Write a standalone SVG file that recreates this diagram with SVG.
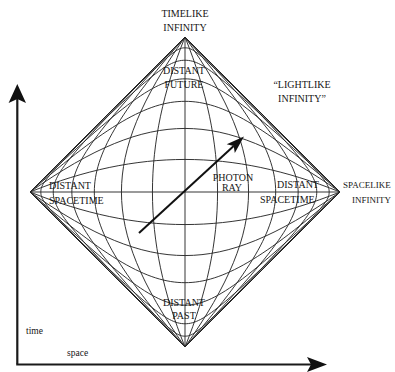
<svg xmlns="http://www.w3.org/2000/svg" xmlns:xlink="http://www.w3.org/1999/xlink" width="395" height="372" viewBox="0 0 395 372">
<defs>
<style>
.g{fill:none;stroke:#2a2a2a;stroke-width:0.95}
.b{fill:none;stroke:#222;stroke-width:1}
.t{font-family:"Liberation Serif","Times New Roman",serif;font-size:10px;fill:#151515}
.s{font-size:9.5px}
.n{font-size:9px}
.m{text-anchor:middle}
.ax{fill:none;stroke:#1a1a1a;stroke-width:2.2}
.hd{fill:#111;stroke:none}
</style>
<g id="vfam">
<path class="g" d="M185,37 V347"/>
<path class="g" d="M185,347 C206.94,292.45 217.55,241.95 217.55,192 C217.55,142.05 206.94,91.55 185,37"/>
<path class="g" d="M185,347 C163.06,292.45 152.45,241.95 152.45,192 C152.45,142.05 163.06,91.55 185,37"/>
<path class="g" d="M185,347 C229.31,283.87 248.55,236.96 248.55,192 C248.55,147.04 229.31,100.13 185,37"/>
<path class="g" d="M185,347 C140.69,283.87 121.45,236.96 121.45,192 C121.45,147.04 140.69,100.13 185,37"/>
<path class="g" d="M185,347 C251.76,270.42 275.68,229.53 275.68,192 C275.68,154.47 251.76,113.58 185,37"/>
<path class="g" d="M185,347 C118.24,270.42 94.32,229.53 94.32,192 C94.32,154.47 118.24,113.58 185,37"/>
<path class="g" d="M185,347 C274.62,252.91 298.15,220.67 298.15,192 C298.15,163.33 274.62,131.09 185,37"/>
<path class="g" d="M185,347 C95.38,252.91 71.85,220.67 71.85,192 C71.85,163.33 95.38,131.09 185,37"/>
<path class="g" d="M185,347 C300.06,230.42 316.75,210.78 316.75,192 C316.75,173.22 300.06,153.58 185,37"/>
<path class="g" d="M185,347 C69.94,230.42 53.25,210.78 53.25,192 C53.25,173.22 69.94,153.58 185,37"/>
<path class="g" d="M185,347 C325.54,206.09 329.15,202.21 329.15,192 C329.15,181.79 325.54,177.91 185,37"/>
<path class="g" d="M185,347 C44.46,206.09 40.85,202.21 40.85,192 C40.85,181.79 44.46,177.91 185,37"/>
</g>
</defs>
<rect x="0" y="0" width="395" height="372" fill="#fff"/>
<g id="grid">
<use xlink:href="#vfam" href="#vfam"/>
<use xlink:href="#vfam" href="#vfam" transform="rotate(90 185 192)"/>
<path class="b" d="M185,37 L340,192 L185,347 L30,192 Z"/>
</g>
<g id="axes">
<path class="ax" d="M17.3,364 V99"/>
<path class="hd" d="M17.3,84 L26,103 L17.3,99 L8.6,103 Z"/>
<path class="ax" d="M16.2,364.5 H312"/>
<path class="hd" d="M327,364.5 L307,357 L311,364.5 L307,372 Z"/>
</g>
<g id="photon-ray">
<path d="M139,233 L233.7,146" fill="none" stroke="#111" stroke-width="2"/>
<path class="hd" d="M244,136.5 L234.8,153.1 L233.7,146 L226.7,144.3 Z"/>
</g>
<g id="label-timelike-infinity">
<text class="t m" x="185" y="16.5">TIMELIKE</text>
<text class="t m" x="185" y="30.5">INFINITY</text>
</g>
<g id="label-distant-future">
<text class="t m" x="184" y="74">DISTANT</text>
<text class="t m" x="184" y="88">FUTURE</text>
</g>
<g id="label-lightlike-infinity">
<text class="t m" x="302" y="88">“LIGHTLIKE</text>
<text class="t m" x="302" y="101.5">INFINITY”</text>
</g>
<g id="label-distant-spacetime-left">
<text class="t" x="49" y="189">DISTANT</text>
<text class="t" x="49" y="203.5">SPACETIME</text>
</g>
<g id="label-photon-ray">
<text class="t m" x="233" y="181">PHOTON</text>
<text class="t m" x="232" y="190.5">RAY</text>
</g>
<g id="label-distant-spacetime-right">
<text class="t" x="277" y="188">DISTANT</text>
<text class="t" x="260" y="203">SPACETIME</text>
</g>
<g id="label-spacelike-infinity">
<text class="t n" x="343" y="188">SPACELIKE</text>
<text class="t n" x="352" y="203">INFINITY</text>
</g>
<g id="label-distant-past">
<text class="t m" x="184" y="306">DISTANT</text>
<text class="t m" x="184" y="319">PAST</text>
</g>
<g id="label-axes">
<text class="t s" x="26" y="334">time</text>
<text class="t s" x="67" y="356">space</text>
</g>
</svg>
